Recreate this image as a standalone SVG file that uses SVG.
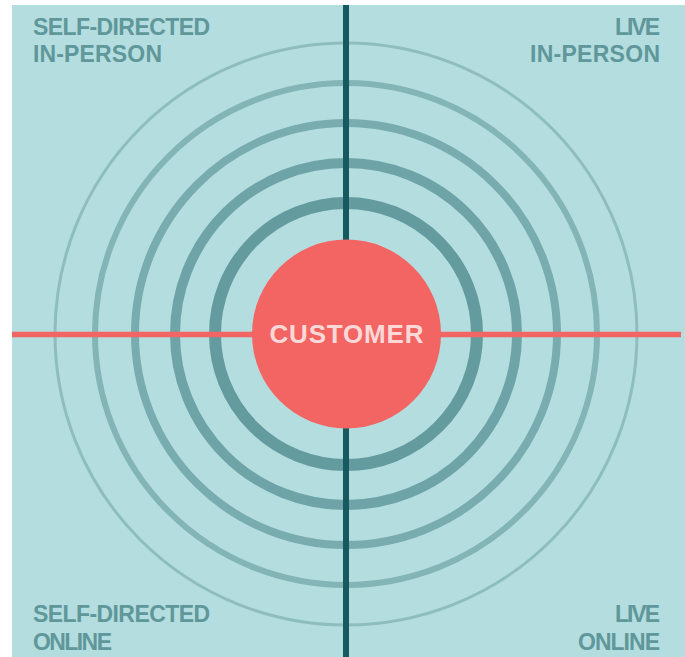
<svg xmlns="http://www.w3.org/2000/svg" width="685" height="657" viewBox="0 0 685 657">
<style>
.lbl{font-family:"Liberation Sans",Arial,sans-serif;font-weight:700;font-size:23px;fill:#5f979a}
.ring{fill:none}
</style>
<rect x="0" y="0" width="685" height="657" fill="#ffffff"/>
<rect x="12" y="5" width="673" height="652" fill="#b4dde0"/>
<g id="rings">
<circle class="ring" cx="346" cy="334" r="291" stroke="#8ebdbf" stroke-width="3"/>
<circle class="ring" cx="346" cy="334" r="251" stroke="#83b4b6" stroke-width="6"/>
<circle class="ring" cx="346" cy="334" r="211" stroke="#78acaf" stroke-width="8"/>
<circle class="ring" cx="346" cy="334" r="171" stroke="#6ea4a7" stroke-width="10"/>
<circle class="ring" cx="346" cy="334" r="131" stroke="#649b9e" stroke-width="12"/>
</g>
<g id="connectors">
<line x1="346" y1="5" x2="346" y2="657" stroke="#165a60" stroke-width="6"/>
<line x1="12" y1="334.5" x2="681" y2="334.5" stroke="#f26563" stroke-width="5.5"/>
</g>
<g id="customer">
<circle cx="346.5" cy="334" r="94.5" fill="#f26563"/>
<text x="346.5" y="343" text-anchor="middle" textLength="154" lengthAdjust="spacing" style="font-family:'Liberation Sans',Arial,sans-serif;font-weight:700;font-size:26px;fill:#fdd8d8">CUSTOMER</text>
</g>
<g id="self-directed-in-person">
<text class="lbl" x="33" y="35" textLength="177" lengthAdjust="spacing">SELF-DIRECTED</text>
<text class="lbl" x="33" y="62" textLength="129" lengthAdjust="spacing">IN-PERSON</text>
</g>
<g id="live-in-person">
<text class="lbl" x="660" y="35" text-anchor="end" textLength="45" lengthAdjust="spacing">LIVE</text>
<text class="lbl" x="660" y="62" text-anchor="end" textLength="130" lengthAdjust="spacing">IN-PERSON</text>
</g>
<g id="self-directed-online">
<text class="lbl" x="33" y="622" textLength="177" lengthAdjust="spacing">SELF-DIRECTED</text>
<text class="lbl" x="33" y="650" textLength="79" lengthAdjust="spacing">ONLINE</text>
</g>
<g id="live-online">
<text class="lbl" x="660" y="622" text-anchor="end" textLength="45" lengthAdjust="spacing">LIVE</text>
<text class="lbl" x="660" y="650" text-anchor="end" textLength="82" lengthAdjust="spacing">ONLINE</text>
</g>
</svg>
